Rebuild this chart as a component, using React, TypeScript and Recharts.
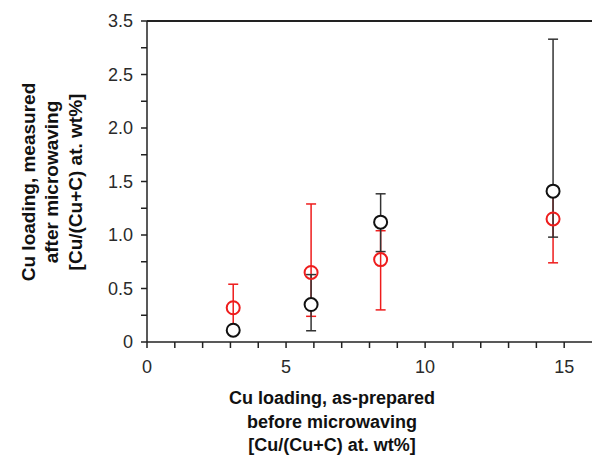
import React from "react"
import {
  ScatterChart,
  Scatter,
  XAxis,
  YAxis,
  ErrorBar,
  ReferenceLine,
  Label,
} from "recharts"

// Cu loading as prepared (x) vs. measured after microwaving (y)
const prepared = [3.1, 5.9, 8.4, 14.6]

const redMeasured = [0.32, 0.65, 0.77, 1.15]
const redErrLow = [0.19, 0.41, 0.47, 0.41]
const redErrHigh = [0.22, 0.64, 0.27, 0.27]

const blackMeasured = [0.11, 0.35, 1.12, 1.41]
const blackErrLow = [0.03, 0.245, 0.275, 0.43]
const blackErrHigh = [0.03, 0.28, 0.265, 1.42]

// axis ticks: minor ticks carry no label
const xTicks = [0, 1, 2, 3, 4, 5, 6, 7, 8, 9, 10, 11, 12, 13, 14, 15]
const xMajor = [0, 5, 10, 15]
const yTicks = [0, 0.25, 0.5, 0.75, 1, 1.25, 1.5, 1.75, 2, 2.25, 2.5, 2.75, 3]
const yMajor = [0, 0.5, 1, 1.5, 2, 2.5, 3]
const yMajorLabels = ["0", "0.5", "1.0", "1.5", "2.0", "2.5", "3.5"]

const xTitle = ["Cu loading, as-prepared", "before microwaving", "[Cu/(Cu+C) at. wt%]"]
const yTitle = ["Cu loading, measured", "after microwaving", "[Cu/(Cu+C) at. wt%]"]

const toPoints = (ys: number[], lo: number[], hi: number[]) =>
  prepared.map((x, i) => ({ x, y: ys[i], err: [lo[i], hi[i]] }))

const redData = toPoints(redMeasured, redErrLow, redErrHigh)
const blackData = toPoints(blackMeasured, blackErrLow, blackErrHigh)

const FONT = "'Liberation Sans', Arial, sans-serif"

const XTick = (props: any) => {
  const { x, y, payload } = props
  if (!xMajor.includes(payload.value)) return null
  return (
    <text x={x} y={y} dy="0.71em" textAnchor="middle" fontSize={18} fill="#2a2a2a" fontFamily={FONT}>
      {payload.value}
    </text>
  )
}

const YTick = (props: any) => {
  const { x, y, payload } = props
  const idx = yMajor.indexOf(payload.value)
  if (idx < 0) return null
  return (
    <text x={x} y={y} dy="0.36em" textAnchor="end" fontSize={18} fill="#2a2a2a" fontFamily={FONT}>
      {yMajorLabels[idx]}
    </text>
  )
}

const XTitle = () => (
  <text textAnchor="middle" fontSize={18} fontWeight="bold" fill="#111" fontFamily={FONT}>
    {xTitle.map((line, i) => (
      <tspan key={i} x={332} y={404 + i * 23.5}>
        {line}
      </tspan>
    ))}
  </text>
)

const YTitle = () => (
  <text
    textAnchor="middle"
    fontSize={19}
    fontWeight="bold"
    fill="#111"
    fontFamily={FONT}
    transform="translate(0,182) rotate(-90)"
  >
    {yTitle.map((line, i) => (
      <tspan key={i} x={0} y={35 + i * 23.3}>
        {line}
      </tspan>
    ))}
  </text>
)

// red rings are open, black rings are filled white so bars stop at the rim
const ring = (color: string, fill: string) => (props: any) =>
  <circle cx={props.cx} cy={props.cy} r={6.5} fill={fill} stroke={color} strokeWidth={2} />

export default function App() {
  return (
    <div style={{ position: "absolute", left: 0, top: 0, background: "#fff" }}>
      <ScatterChart width={592} height={457} margin={{ top: 21, right: 0, left: 0, bottom: 85 }}>
        <XAxis
          type="number"
          dataKey="x"
          domain={[0, 16]}
          ticks={xTicks}
          interval={0}
          height={30}
          tickSize={6}
          tickMargin={12}
          tick={<XTick />}
          stroke="#222"
          strokeWidth={1.5}
          allowDataOverflow
        >
          <Label content={<XTitle />} />
        </XAxis>
        <YAxis
          type="number"
          dataKey="y"
          domain={[0, 3]}
          ticks={yTicks}
          interval={0}
          width={147}
          tickSize={6}
          tickMargin={8}
          tick={<YTick />}
          stroke="#222"
          strokeWidth={1.5}
          allowDataOverflow
        >
          <Label content={<YTitle />} />
        </YAxis>
        <ReferenceLine y={3} stroke="#222" strokeWidth={2} />
        <Scatter data={redData} shape={ring("#ee1c1c", "none")} isAnimationActive={false}>
          <ErrorBar dataKey="err" direction="y" width={5} stroke="#ee1c1c" strokeWidth={1.5} />
        </Scatter>
        <Scatter data={blackData} shape={ring("#111", "#fff")} isAnimationActive={false}>
          <ErrorBar dataKey="err" direction="y" width={5} stroke="#333" strokeWidth={1.5} />
        </Scatter>
      </ScatterChart>
    </div>
  )
}
